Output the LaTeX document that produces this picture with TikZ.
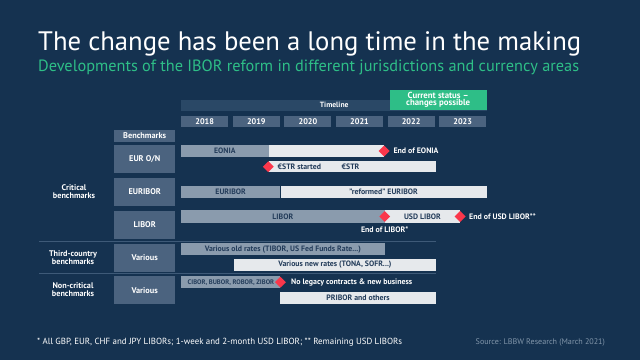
\documentclass[tikz,border=0pt]{standalone}
\usepackage{fontspec}
\setmainfont{PT Sans}
\usetikzlibrary{shapes.geometric,positioning}

\definecolor{navy}{RGB}{21,50,80}
\definecolor{tlblue}{RGB}{42,72,102}
\definecolor{boxblue}{RGB}{75,99,127}
\definecolor{bargrey}{RGB}{138,155,173}
\definecolor{barlight}{RGB}{230,233,236}
\definecolor{bartext}{RGB}{35,60,90}
\definecolor{signalred}{RGB}{250,55,75}
\definecolor{kiwi}{RGB}{46,190,135}
\definecolor{sepline}{RGB}{62,90,120}
\definecolor{srcgrey}{RGB}{130,150,170}

\newcommand{\fsz}[1]{\fontsize{#1}{#1}\selectfont}

\tikzset{
  yearbox/.style = {fill=boxblue, text=white, font=\bfseries\fsz{8.2}, minimum width=47pt,
    minimum height=10.6pt, inner sep=0pt, anchor=north west},
  bmbox/.style = {fill=boxblue, text=white, font=\bfseries\fsz{8.3}, minimum width=61pt,
    inner sep=0pt, anchor=north west},
  darkbar/.style = {fill=bargrey, text=bartext, font=\bfseries\fsz{7.8}, minimum height=12pt,
    inner sep=0pt, anchor=west},
  lightbar/.style = {fill=barlight, text=bartext, font=\bfseries\fsz{7.8}, minimum height=12pt,
    inner sep=0pt, anchor=west},
  milestone/.style = {diamond, fill=signalred, minimum width=11pt, minimum height=11pt,
    inner sep=0pt, aspect=1},
  note/.style = {text=white, font=\bfseries\fsz{7.9}, inner sep=0pt},
  group/.style = {text=white, font=\bfseries\fsz{8.2}, align=center, inner sep=0pt},
}

\begin{document}
\begin{tikzpicture}[x=1pt, y=-1pt]
% Background
\fill[navy] (0,0) rectangle (640,360);
\useasboundingbox (0,0) rectangle (640,360);
% Title
\node[anchor=base west, text=white, font=\fsz{26.7}, inner sep=0pt] (title) at (38,50)
  {The change has been a long time in the making};
\node[anchor=base west, text=kiwi, font=\fsz{16.3}, inner sep=0pt] (subtitle) at (38,71)
  {Developments of the IBOR reform in different jurisdictions and currency areas};
% Timeline
\node[fill=tlblue, text=white, font=\bfseries\fsz{7.6}, minimum width=306pt, minimum height=11.4pt,
  inner sep=0pt, anchor=north west] (timeline) at (181,99.3) {Timeline};
\node[fill=kiwi, text=white, font=\bfseries\fsz{8.8}, minimum width=97.4pt, minimum height=20pt,
  inner sep=0pt, align=center, anchor=north west] (status) at (389.3,89.3)
  {Current status --\\[-1.5pt]changes possible};
\foreach \yr [count=\i from 0] in {2018,...,2023}
  \node[yearbox] (y\yr) at ({181+\i*51.6},116) {\yr};
% Benchmarks
\node[bmbox, minimum height=11.3pt] (bench) at (114,130) {Benchmarks};
\node[bmbox, minimum height=27.7pt] (euron) at (114,145) {EUR O/N};
\node[bmbox, minimum height=28pt] (euribor) at (114,177.7) {EURIBOR};
\node[bmbox, minimum height=28pt] (libor) at (114,210.3) {LIBOR};
\node[bmbox, minimum height=28.4pt] (third) at (114,243.3) {Various};
\node[bmbox, minimum height=28pt] (noncrit) at (114,276) {Various};
% Groups
\node[group] (gcrit) at (74,192) {Critical\\benchmarks};
\node[group] (gthird) at (73,257.5) {Third-country\\benchmarks};
\node[group] (gnon) at (73,290) {Non-critical\\benchmarks};
\draw[sepline, thick] (39,241) -- (436,241);
\draw[sepline, thick] (39,273.3) -- (436,273.3);
% EONIA / ESTR
\node[darkbar, minimum width=87.3pt] (eonia) at (181,151) {EONIA};
\node[lightbar, minimum width=115pt] (eonialt) at (eonia.east) {};
\node[milestone] (eoniaend) at (eonialt.east) {};
\node[note, anchor=west] (eonianote) at (393.3,151) {End of EONIA};
\node[lightbar, minimum width=167.4pt, minimum height=11.4pt] (estr) at (268.3,166.7) {};
\node[milestone] (estrstart) at (estr.west) {};
\node[text=bartext, font=\bfseries\fsz{7.8}, inner sep=0pt, anchor=west] (estrnote) at (277.5,166.7) {€STR started};
\node[text=bartext, font=\bfseries\fsz{7.8}, inner sep=0pt, anchor=west] (estrtxt) at (341.5,166.7) {€STR};
% EURIBOR
\node[darkbar, minimum width=99pt] (euri) at (181,191.7) {EURIBOR};
\node[lightbar, minimum width=206pt] (eurinew) at (euri.east) {"reformed" EURIBOR};
% LIBOR
\node[darkbar, minimum width=203.3pt, minimum height=12.4pt] (lib) at (181,216.5) {LIBOR};
\node[lightbar, minimum width=75pt, minimum height=12.4pt] (usdlib) at (lib.east) {USD LIBOR};
\node[milestone] (libend) at (lib.east) {};
\node[milestone] (usdend) at (usdlib.east) {};
\node[note, anchor=west] (usdnote) at (469,216.5) {End of USD LIBOR**};
\node[note, below=4pt of libend] (libnote) {End of LIBOR*};
% Third-country
\node[darkbar, minimum width=203.3pt] (oldrates) at (181,249.3) {Various old rates (TIBOR, US Fed Funds Rate...)};
\node[lightbar, minimum width=202pt] (newrates) at (233.7,265) {Various new rates (TONA, SOFR...)};
% Non-critical
\node[darkbar, minimum width=99pt, minimum height=12.3pt, font=\bfseries\fsz{6.6}, align=left]
  (cibor) at (181,282.2) {\hspace{0.5pt}CIBOR, BUBOR, ROBOR, ZIBOR\hfill};
\node[milestone] (ciborend) at (cibor.east) {};
\node[note, anchor=west] (cibornote) at (291,282.2) {No legacy contracts \& new business};
\node[lightbar, minimum width=155.7pt, minimum height=12.3pt] (pribor) at (280,297.8) {PRIBOR and others};
% Footer
\node[anchor=base west, text=white, font=\fsz{8.9}, inner sep=0pt] (foot) at (37,344)
  {* All GBP, EUR, CHF and JPY LIBORs; 1-week and 2-month USD LIBOR; ** Remaining USD LIBORs};
\node[anchor=base west, text=srcgrey, font=\fsz{8.1}, inner sep=0pt] (source) at (475.5,344)
  {Source: LBBW Research (March 2021)};
\end{tikzpicture}
\end{document}
